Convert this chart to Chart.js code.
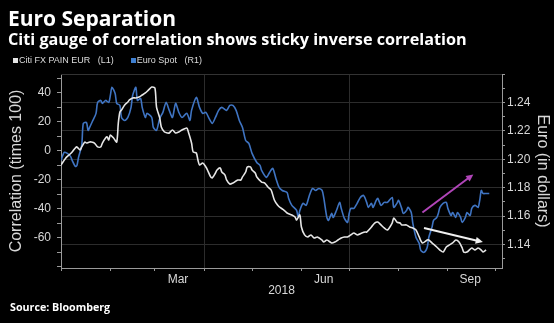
<!DOCTYPE html>
<html>
<head>
<meta charset="utf-8">
<script src="https://cdn.jsdelivr.net/npm/chart.js@4/dist/chart.umd.min.js"></script>
<style>
  html, body { margin: 0; padding: 0; background: #000; }
  #wrap { position: relative; width: 554px; height: 323px; background: #000; overflow: hidden;
          font-family: "Open Sans", "Liberation Sans", Arial, sans-serif; color: #fff; }
  #chart { position: absolute; left: 0; top: 0; }
  .title { position: absolute; left: 8px; top: 3px; font-size: 21px; font-weight: bold; color: #fff; white-space: nowrap; line-height: 30px; }
  .subtitle { position: absolute; left: 8px; top: 28px; font-size: 16.2px; font-weight: bold; color: #fff; white-space: nowrap; line-height: 22px; }
  .legend { position: absolute; left: 13px; top: 53px; font-family: "Liberation Sans", Arial, sans-serif;
            font-size: 9px; color: #ddd; white-space: nowrap; line-height: 14px; }
  .legend span.sw { display: inline-block; width: 5px; height: 5px; margin-right: 1px; vertical-align: 0px; }
  .legend span.item { margin-right: 17px; }
  .source { position: absolute; left: 10px; top: 299px; font-size: 10.7px; font-weight: bold; color: #fff; white-space: nowrap; line-height: 16px; }
</style>
</head>
<body>
<div id="wrap">
  <canvas id="chart" width="554" height="323"></canvas>
  <div class="title">Euro Separation</div>
  <div class="subtitle">Citi gauge of correlation shows sticky inverse correlation</div>
  <div class="legend"><span class="item"><span class="sw" style="background:#e6e6e6"></span>Citi FX PAIN EUR&nbsp;&nbsp; (L1)</span><span class="item"><span class="sw" style="background:#3f7fd0"></span>Euro Spot&nbsp;&nbsp; (R1)</span></div>
  <div class="source">Source: Bloomberg</div>
</div>
<script>
// Citi FX PAIN EUR correlation gauge (times 100), by day of 2018 (0 = Jan 1)
const painDays = [0,3,5,7,9,10,12,13,15,16,18,19,21,23,25,26,28,29,30,31,33,35,36,37,38,40,42,43,45,47,49,51,53,55,57,59,60,62,63,65,67,68,70,72,74,76,79,80,82,83,85,86,87,89,91,92,94,95,97,98,100,101,103,104,106,108,109,111,113,114,116,117,119,120,122,123,126,128,130,132,134,136,138,140,142,145,147,148,150,151,153,155,157,159,161,164,165,167,170,172,174,176,178,180,182,184,186,189,191,192,195,197,199,201,203,205,208,209,211,213,214,217,219,221,223,225,227,230,231,233,236,238,240,242,244,246,248,250,252,253,255,258,260,262,264,265,267];
const painValues = [-9.7,-4.8,-2.8,-0.7,2.1,2.8,0.7,2.8,6.2,5.5,6.2,6.2,5.5,2.8,2.8,5.5,9.0,9.7,7.6,11.0,9.0,6.2,19.3,26.9,28.3,31.7,33.8,35.2,36.6,36.6,37.2,38.6,40.0,42.1,44.1,43.4,30.3,22.8,16.6,13.1,12.4,12.4,14.5,12.4,13.1,14.5,15.9,13.1,5.5,-0.7,-1.4,-6.2,-9.7,-8.3,-11.0,-13.1,-17.9,-18.6,-15.2,-13.1,-11.7,-14.5,-16.6,-20.0,-22.8,-22.1,-21.4,-20.0,-20.0,-17.9,-14.5,-11.0,-11.0,-13.1,-15.2,-17.9,-21.4,-22.1,-24.8,-26.9,-33.8,-37.2,-39.3,-40.7,-42.8,-44.1,-45.5,-47.6,-44.1,-52.4,-57.9,-59.3,-57.9,-60.0,-59.3,-61.4,-62.8,-61.4,-63.4,-62.8,-61.4,-60.0,-59.3,-59.3,-57.9,-56.6,-57.9,-56.6,-55.9,-55.9,-52.4,-49.7,-49.0,-51.0,-53.1,-54.5,-49.7,-46.2,-49.0,-49.7,-51.0,-51.0,-52.4,-53.1,-54.5,-59.3,-63.4,-61.4,-61.4,-63.4,-66.2,-68.3,-69.7,-66.2,-64.8,-63.4,-61.4,-62.8,-66.9,-69.7,-69.7,-66.9,-68.3,-66.9,-68.3,-69.7,-68.3];

// EUR/USD spot, by day of 2018
const spotDays = [0,2,4,6,7,9,10,11,13,14,16,17,18,20,22,23,25,26,28,30,31,32,34,35,37,38,40,42,44,45,47,48,50,51,53,54,57,58,60,62,64,66,68,70,72,74,76,79,81,82,85,87,89,91,93,95,97,99,101,104,106,108,110,112,114,116,118,120,123,125,126,129,131,133,135,137,139,142,143,145,148,149,150,152,154,156,158,160,162,164,165,167,168,170,171,173,175,176,178,180,181,182,184,186,188,190,192,193,195,196,198,199,201,203,205,208,209,211,212,214,215,217,218,220,221,223,225,226,228,230,231,233,234,236,237,238,240,242,243,245,246,248,249,251,252,254,255,257,258,260,262,263,264,265,267,269];
const spotValues = [1.1992,1.2048,1.2041,1.2020,1.1992,1.1949,1.1956,1.2013,1.2097,1.2252,1.2259,1.2203,1.2224,1.2273,1.2323,1.2400,1.2414,1.2393,1.2414,1.2400,1.2449,1.2506,1.2463,1.2393,1.2379,1.2294,1.2273,1.2294,1.2365,1.2449,1.2506,1.2414,1.2428,1.2365,1.2294,1.2323,1.2294,1.2224,1.2203,1.2287,1.2330,1.2400,1.2344,1.2294,1.2393,1.2330,1.2294,1.2323,1.2273,1.2344,1.2435,1.2365,1.2323,1.2330,1.2287,1.2252,1.2294,1.2344,1.2365,1.2344,1.2379,1.2379,1.2344,1.2273,1.2224,1.2132,1.2111,1.2041,1.1977,1.1956,1.1921,1.1872,1.1907,1.1935,1.1865,1.1801,1.1780,1.1766,1.1724,1.1675,1.1639,1.1590,1.1639,1.1689,1.1675,1.1745,1.1794,1.1780,1.1794,1.1780,1.1731,1.1590,1.1569,1.1618,1.1590,1.1639,1.1696,1.1654,1.1583,1.1555,1.1618,1.1654,1.1654,1.1689,1.1731,1.1745,1.1696,1.1661,1.1689,1.1661,1.1710,1.1724,1.1675,1.1696,1.1696,1.1731,1.1661,1.1689,1.1710,1.1654,1.1618,1.1639,1.1661,1.1625,1.1548,1.1449,1.1407,1.1358,1.1344,1.1379,1.1449,1.1520,1.1569,1.1590,1.1618,1.1661,1.1689,1.1696,1.1654,1.1604,1.1625,1.1590,1.1625,1.1590,1.1555,1.1590,1.1625,1.1604,1.1654,1.1675,1.1661,1.1710,1.1780,1.1759,1.1759,1.1759];

// Month boundaries (tick marks) and month labels placed mid-month
const monthStarts = [0,31,59,90,120,151,181,212,243,273];
const monthLabelDays = [73.5, 165, 257];
const monthLabels = ['Mar', 'Jun', 'Sep'];
const quarterStarts = [90, 181];

// Axis tick labels
const leftTicks = [-60, -40, -20, 0, 20, 40];
const rightTicks = ['1.14', '1.16', '1.18', '1.20', '1.22', '1.24'];

// Trend arrows, in data units
const trendArrows = [
  { axis: 'yR', from: [227, 1.1625], to: [259, 1.1893], color: '#b045b8' },
  { axis: 'yL', from: [228, -53.1], to: [265, -62.8], color: '#f0f0f0' }
];

const AXIS = '#9a9a9a';
const TEXT = '#d8d8d8';
const GRID = '#2c2c2c';
const FONT = '"Liberation Sans", Arial, sans-serif';

const arrowPlugin = {
  id: 'trendArrows',
  afterDatasetsDraw(chart) {
    const ctx = chart.ctx;
    const xs = chart.scales.x;
    trendArrows.forEach(a => {
      const ys = chart.scales[a.axis];
      const x1 = xs.getPixelForValue(a.from[0]), y1 = ys.getPixelForValue(a.from[1]);
      const x2 = xs.getPixelForValue(a.to[0]), y2 = ys.getPixelForValue(a.to[1]);
      const ang = Math.atan2(y2 - y1, x2 - x1);
      const head = 8;
      ctx.save();
      ctx.strokeStyle = a.color;
      ctx.fillStyle = a.color;
      ctx.lineWidth = 2;
      ctx.beginPath();
      ctx.moveTo(x1, y1);
      ctx.lineTo(x2 - Math.cos(ang) * head * 0.6, y2 - Math.sin(ang) * head * 0.6);
      ctx.stroke();
      ctx.beginPath();
      ctx.moveTo(x2, y2);
      ctx.lineTo(x2 - head * Math.cos(ang - 0.45), y2 - head * Math.sin(ang - 0.45));
      ctx.lineTo(x2 - head * Math.cos(ang + 0.45), y2 - head * Math.sin(ang + 0.45));
      ctx.closePath();
      ctx.fill();
      ctx.restore();
    });
  }
};

// Thin frame line along the top of the plot area
const framePlugin = {
  id: 'frameTop',
  beforeDatasetsDraw(chart) {
    const { ctx, chartArea: a } = chart;
    ctx.save();
    ctx.strokeStyle = '#333';
    ctx.lineWidth = 1;
    ctx.beginPath();
    ctx.moveTo(a.left, a.top + 0.5);
    ctx.lineTo(a.right, a.top + 0.5);
    ctx.stroke();
    ctx.restore();
  }
};

const painPoints = painDays.map((d, i) => ({ x: d, y: painValues[i] }));
const spotPoints = spotDays.map((d, i) => ({ x: d, y: spotValues[i] }));

new Chart(document.getElementById('chart'), {
  type: 'line',
  data: {
    datasets: [
      { label: 'Citi FX PAIN EUR (L1)', data: painPoints, yAxisID: 'yL',
        borderColor: '#e6e6e6', borderWidth: 1.6, pointRadius: 0, tension: 0.25 },
      { label: 'Euro Spot (R1)', data: spotPoints, yAxisID: 'yR',
        borderColor: '#3f74c2', borderWidth: 1.6, pointRadius: 0, tension: 0.25 }
    ]
  },
  options: {
    responsive: false,
    animation: false,
    layout: { padding: { left: 0, right: 0, top: 74, bottom: 25 } },
    plugins: { legend: { display: false }, tooltip: { enabled: false } },
    scales: {
      x: {
        type: 'linear', min: 0, max: 277,
        afterBuildTicks(scale) {
          scale.ticks = monthStarts.concat(monthLabelDays).sort((a, b) => a - b).map(v => ({ value: v }));
        },
        afterFit(scale) { scale.height = 30; },
        border: { display: true, color: AXIS, width: 1 },
        grid: {
          drawOnChartArea: true, drawTicks: true, tickLength: 3,
          color: c => (c.tick && quarterStarts.includes(c.tick.value)) ? GRID : 'rgba(0,0,0,0)',
          tickColor: c => (c.tick && monthStarts.includes(c.tick.value)) ? AXIS : 'rgba(0,0,0,0)'
        },
        ticks: {
          autoSkip: false, maxRotation: 0, padding: 1, color: TEXT,
          font: { family: FONT, size: 12 },
          callback: v => { const i = monthLabelDays.indexOf(v); return i >= 0 ? monthLabels[i] : ''; }
        },
        title: { display: true, text: '2018', color: TEXT, font: { family: FONT, size: 12 }, padding: 0 }
      },
      yL: {
        type: 'linear', position: 'left', min: -80.7, max: 53.1,
        afterBuildTicks(scale) {
          const t = [];
          for (let v = -80; v <= 50; v += 10) t.push({ value: v });
          scale.ticks = t;
        },
        afterFit(scale) { scale.width = 61; },
        border: { display: true, color: AXIS, width: 1 },
        grid: { drawOnChartArea: false, tickLength: 4, tickColor: AXIS },
        ticks: {
          autoSkip: false, padding: 6, color: TEXT, font: { family: FONT, size: 12 },
          callback: v => leftTicks.includes(v) ? String(v) : ''
        },
        title: { display: true, text: 'Correlation (times 100)', color: TEXT,
                 font: { family: FONT, size: 16 }, padding: { top: 7, bottom: 0 } }
      },
      yR: {
        type: 'linear', position: 'right', min: 1.1234, max: 1.26,
        afterBuildTicks(scale) {
          const t = [];
          for (let k = 113; k <= 126; k++) t.push({ value: k / 100 });
          scale.ticks = t;
        },
        afterFit(scale) { scale.width = 52; },
        border: { display: true, color: AXIS, width: 1 },
        grid: {
          drawOnChartArea: true, tickLength: 3, tickColor: AXIS,
          color: c => (c.tick && rightTicks.includes(c.tick.value.toFixed(2))) ? GRID : 'rgba(0,0,0,0)'
        },
        ticks: {
          autoSkip: false, padding: 2, color: TEXT, font: { family: FONT, size: 12 },
          callback: v => { const s = Number(v).toFixed(2); return rightTicks.includes(s) ? s : ''; }
        },
        title: { display: true, text: 'Euro (in dollars)', color: TEXT,
                 font: { family: FONT, size: 16 }, padding: { top: 2, bottom: 0 } }
      }
    }
  },
  plugins: [framePlugin, arrowPlugin]
});
</script>
</body>
</html>
